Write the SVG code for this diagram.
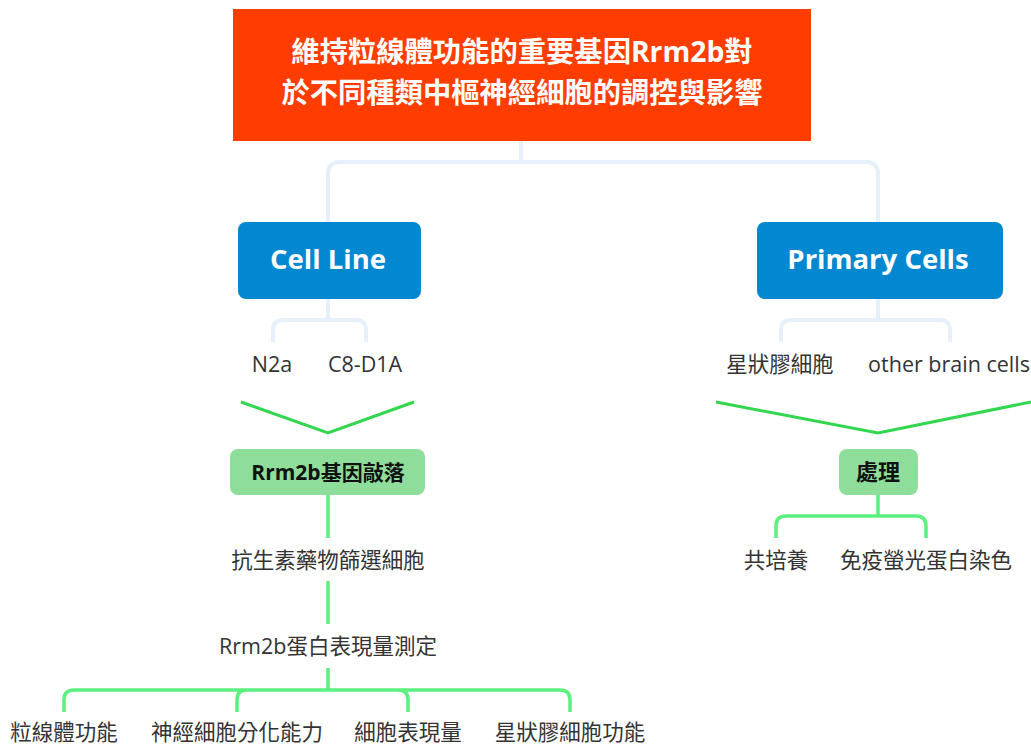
<svg xmlns="http://www.w3.org/2000/svg" width="1031" height="745" viewBox="0 0 1031 745">
<style>
.lbl{font-family:"Open Sans","Noto Sans CJK TC",sans-serif;font-size:21.5px;fill:#333;text-anchor:middle}
.blue{fill:#0288D1}
.green{fill:#8EDD9A}
.bl{fill:none;stroke:#E6F0FA;stroke-width:4}
.gl{fill:none;stroke:#5CF07E;stroke-width:3.5}
.gv{fill:none;stroke:#33D64F;stroke-width:3}
</style>
<rect width="1031" height="745" fill="#fff"/>
<g id="connectors">
<path class="bl" d="M521 141 V162 M328 222 V174 Q328 162 340 162 H866 Q878 162 878 174 V222"/>
<path class="bl" d="M328 299 V320 M273 342 V330 Q273 320 283 320 H356 Q366 320 366 330 V342"/>
<path class="bl" d="M878 299 V320 M781 342 V330 Q781 320 791 320 H940 Q950 320 950 330 V342"/>
<path class="gv" d="M241 402 L328 433 L414 402"/>
<path class="gv" d="M716 402 L878 433 L1031 402"/>
<path class="gl" d="M328 495 V538 M328 581 V624 M328 668 V690"/>
<path class="gl" d="M64 712 V700 Q64 690 74 690 H560 Q570 690 570 700 V712 M237 712 V700 Q237 690 247 690 M408 712 V700 Q408 690 398 690"/>
<path class="gl" d="M878 495 V516 M776 538 V526 Q776 516 786 516 H916 Q926 516 926 526 V538"/>
</g>
<g id="title">
<rect x="233" y="9" width="578" height="132" fill="#FF3D00"/>
<text x="522" y="62" text-anchor="middle" font-family="'Open Sans','Noto Sans CJK TC',sans-serif" font-size="28.3" font-weight="bold" fill="#fff">維持粒線體功能的重要基因Rrm2b對</text>
<text x="522" y="103" text-anchor="middle" font-family="'Open Sans','Noto Sans CJK TC',sans-serif" font-size="28.3" font-weight="bold" fill="#fff">於不同種類中樞神經細胞的調控與影響</text>
</g>
<g id="cell-line">
<rect class="blue" x="238" y="222" width="183" height="77" rx="8"/>
<text x="328" y="269" text-anchor="middle" font-family="'Open Sans',sans-serif" font-size="27.5" font-weight="bold" fill="#fff">Cell Line</text>
</g>
<g id="primary-cells">
<rect class="blue" x="757" y="222" width="246" height="77" rx="8"/>
<text x="878" y="269" text-anchor="middle" font-family="'Open Sans',sans-serif" font-size="27.5" font-weight="bold" fill="#fff">Primary Cells</text>
</g>
<g id="n2a"><text class="lbl" x="272" y="372">N2a</text></g>
<g id="c8d1a"><text class="lbl" x="365" y="372">C8-D1A</text></g>
<g id="astro"><text class="lbl" x="780" y="372">星狀膠細胞</text></g>
<g id="other"><text class="lbl" x="949" y="372">other brain cells</text></g>
<g id="knockdown">
<rect class="green" x="230" y="449" width="195" height="46" rx="8"/>
<text x="328" y="480" text-anchor="middle" font-family="'Open Sans','Noto Sans CJK TC',sans-serif" font-size="21" font-weight="bold" fill="#111">Rrm2b基因敲落</text>
</g>
<g id="treat">
<rect class="green" x="839" y="449" width="79" height="46" rx="8"/>
<text x="878" y="480" text-anchor="middle" font-family="'Noto Sans CJK TC',sans-serif" font-size="22" font-weight="bold" fill="#111">處理</text>
</g>
<g id="select"><text class="lbl" x="328" y="568">抗生素藥物篩選細胞</text></g>
<g id="measure"><text class="lbl" x="328" y="654">Rrm2b蛋白表現量測定</text></g>
<g id="mito"><text class="lbl" x="64" y="740">粒線體功能</text></g>
<g id="neuro"><text class="lbl" x="237" y="740">神經細胞分化能力</text></g>
<g id="expr"><text class="lbl" x="408" y="740">細胞表現量</text></g>
<g id="astrofn"><text class="lbl" x="570" y="740">星狀膠細胞功能</text></g>
<g id="cocult"><text class="lbl" x="776" y="568">共培養</text></g>
<g id="if"><text class="lbl" x="926" y="568">免疫螢光蛋白染色</text></g>
</svg>
